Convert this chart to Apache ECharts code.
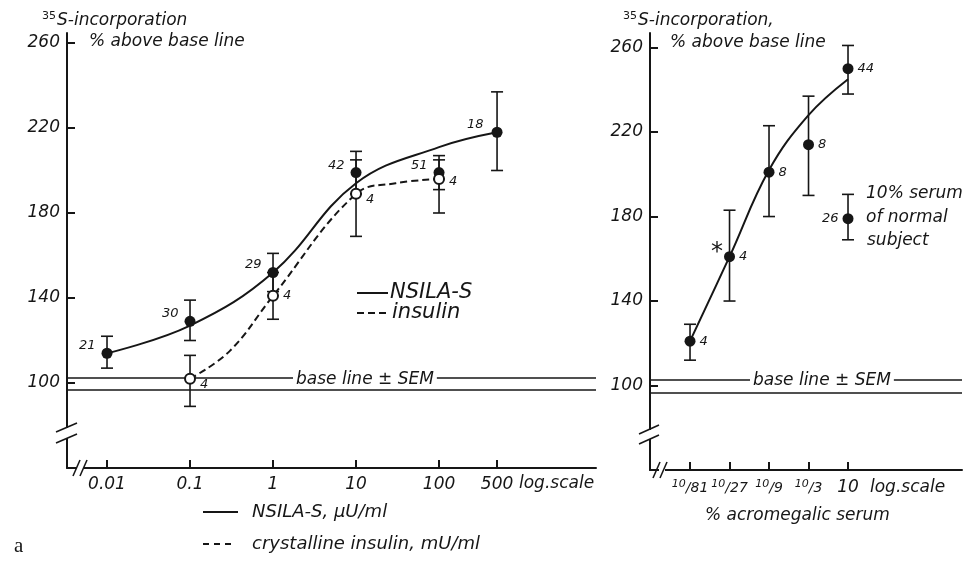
<!DOCTYPE html>
<html>
<head>
<meta charset="utf-8">
<script src="https://cdn.jsdelivr.net/npm/echarts@6/dist/echarts.min.js"></script>
<style>
  html, body { margin: 0; background: #fff; }
  #chart { width: 965px; height: 561px; }
</style>
</head>
<body>
<div id="chart"></div>
<script>
// ---- left panel: NSILA-S (µU/ml) and crystalline insulin (mU/ml), log scale ----
const leftTicks = [0.01, 0.1, 1, 10, 100, 500];
const leftTickLabels = ["0.01", "0.1", "1", "10", "100", "500"];
const yTicks = [100, 140, 180, 220, 260];

const nsilaDose = [0.01, 0.1, 1, 10, 100, 500];
const nsilaMean = [114, 129, 152, 199, 199, 218];
const nsilaLow = [107, 120, 143, 189, 191, 200];
const nsilaHigh = [122, 139, 161, 209, 207, 237];
const nsilaN = [21, 30, 29, 42, 51, 18];

const insulinDose = [0.1, 1, 10, 100];
const insulinMean = [102, 141, 189, 196];
const insulinLow = [89, 130, 169, 180];
const insulinHigh = [113, 152, 205, 205];
const insulinN = [4, 4, 4, 4];

// fitted curves as drawn
const nsilaCurveDose = [0.01, 0.1, 1, 10, 100, 500];
const nsilaCurve = [114, 127, 152, 194, 211, 218];
const insulinCurveDose = [0.1, 0.3, 1, 10, 30, 100];
const insulinCurve = [102, 115, 141, 189, 194, 196];

// ---- right panel: % acromegalic serum ----
const serumTicks = [10 / 81, 10 / 27, 10 / 9, 10 / 3, 10];
const serumTickLabels = ["10/81", "10/27", "10/9", "10/3", "10"];

const serumDose = [10 / 81, 10 / 27, 10 / 9, 10 / 3, 10];
const serumMean = [121, 161, 201, 214, 250];
const serumLow = [112, 140, 180, 190, 238];
const serumHigh = [129, 183, 223, 237, 261];
const serumN = [4, 4, 8, 8, 44];
const serumCurve = [121, 161, 202, 228, 245];

// 10% serum of normal subject
const normalDose = [10];
const normalMean = [179];
const normalLow = [169];
const normalHigh = [190.5];
const normalN = [26];

// base line ± SEM
const baseLine = [102.6, 96.8];

// label offsets (px) next to each point
const nsilaLabelOffset = [[-2, -8], [-2, -8], [-2, -8], [-2, -7], [-2, -7], [-4, -8]];
const insulinLabelOffset = [[0, 6], [0, 0], [0, 6], [0, 3]];

const FONT = "DejaVu Sans";
const INK = "#161616";

const log = (v) => Math.log10(v);

const pickLabel = (ticks, labels) => (value) => {
  let best = 0;
  ticks.forEach((t, i) => {
    if (Math.abs(log(t) - value) < Math.abs(log(ticks[best]) - value)) best = i;
  });
  return labels[best];
};

const textStyle = (size) => ({
  fill: INK,
  fontFamily: FONT,
  fontStyle: "italic",
  fontSize: size,
});

const errorBar = (gridIdx, dose, low, high) => ({
  type: "custom",
  xAxisIndex: gridIdx,
  yAxisIndex: gridIdx,
  silent: true,
  z: 3,
  encode: { x: 0, y: [1, 2] },
  data: dose.map((d, i) => [log(d), low[i], high[i]]),
  renderItem: (params, api) => {
    const top = api.coord([api.value(0), api.value(2)]);
    const bot = api.coord([api.value(0), api.value(1)]);
    const style = { stroke: INK, lineWidth: 1.6 };
    return {
      type: "group",
      children: [
        { type: "line", shape: { x1: top[0], y1: top[1], x2: bot[0], y2: bot[1] }, style },
        { type: "line", shape: { x1: top[0] - 6, y1: top[1], x2: top[0] + 6, y2: top[1] }, style },
        { type: "line", shape: { x1: bot[0] - 6, y1: bot[1], x2: bot[0] + 6, y2: bot[1] }, style },
      ],
    };
  },
});

const points = (gridIdx, dose, mean, n, opts) => ({
  type: "scatter",
  xAxisIndex: gridIdx,
  yAxisIndex: gridIdx,
  silent: true,
  z: 5,
  symbol: "circle",
  symbolSize: opts.open ? 10 : 11,
  itemStyle: opts.open
    ? { color: "#fff", borderColor: INK, borderWidth: 2, opacity: 1 }
    : { color: INK, opacity: 1 },
  label: {
    show: true,
    position: opts.position,
    distance: 4,
    color: INK,
    fontFamily: FONT,
    fontStyle: "italic",
    fontSize: 13,
    formatter: (p) => String(n[p.dataIndex]),
  },
  data: dose.map((d, i) => ({
    value: [log(d), mean[i]],
    label: opts.offsets ? { offset: opts.offsets[i] } : undefined,
  })),
});

const curve = (gridIdx, dose, values, dashed) => ({
  type: "line",
  xAxisIndex: gridIdx,
  yAxisIndex: gridIdx,
  silent: true,
  smooth: 0.4,
  showSymbol: false,
  z: 2,
  lineStyle: { color: INK, width: 2, type: dashed ? [7, 4] : "solid" },
  data: dose.map((d, i) => [log(d), values[i]]),
});

const baseLines = (gridIdx) => ({
  type: "line",
  xAxisIndex: gridIdx,
  yAxisIndex: gridIdx,
  silent: true,
  data: [],
  markLine: {
    silent: true,
    symbol: "none",
    label: { show: false },
    lineStyle: { color: INK, width: 1.5, type: "solid" },
    data: baseLine.map((v) => ({ yAxis: v })),
  },
});

const yAxis = (gridIdx, max) => ({
  gridIndex: gridIdx,
  type: "value",
  min: 60,
  max: max,
  axisLine: { show: true, onZero: false, lineStyle: { color: INK, width: 2 } },
  axisTick: { show: true, inside: true, length: 8, customValues: yTicks, lineStyle: { color: INK, width: 2 } },
  axisLabel: {
    customValues: yTicks,
    color: INK,
    fontFamily: FONT,
    fontStyle: "italic",
    fontSize: 17,
    margin: 7,
  },
  splitLine: { show: false },
});

const slash = (x1, y1, x2, y2) => ({
  type: "line",
  shape: { x1, y1, x2, y2 },
  style: { stroke: INK, lineWidth: 1.6 },
  z: 20,
});
const gap = (x, y, w, h) => ({
  type: "rect",
  shape: { x, y, width: w, height: h },
  style: { fill: "#fff" },
  z: 19,
});
const label = (x, y, text, size, extra) => ({
  type: "text",
  x, y, z: 20,
  style: Object.assign(textStyle(size), { text, verticalAlign: "middle" }, extra || {}),
});

const chart = echarts.init(document.getElementById("chart"));

chart.setOption({
  backgroundColor: "#fff",
  animation: false,
  grid: [
    { left: 67, top: 33, width: 529, height: 435 },
    { left: 650, top: 33, width: 312, height: 437 },
  ],
  xAxis: [
    {
      gridIndex: 0,
      type: "value",
      min: -2.482,
      max: 3.891,
      axisLine: { show: true, onZero: false, lineStyle: { color: INK, width: 2 } },
      axisTick: { show: true, inside: true, length: 8, customValues: leftTicks.map(log), lineStyle: { color: INK, width: 2 } },
      axisLabel: {
        customValues: leftTicks.map(log),
        formatter: pickLabel(leftTicks, leftTickLabels),
        color: INK,
        fontFamily: FONT,
        fontStyle: "italic",
        fontSize: 17,
        margin: 8,
      },
      splitLine: { show: false },
    },
    {
      gridIndex: 1,
      type: "value",
      min: -1.392,
      max: 2.377,
      axisLine: { show: true, onZero: false, lineStyle: { color: INK, width: 2 } },
      axisTick: { show: true, inside: true, length: 8, customValues: serumTicks.map(log), lineStyle: { color: INK, width: 2 } },
      axisLabel: {
        customValues: serumTicks.map(log),
        formatter: (v) => {
          const s = pickLabel(serumTicks, serumTickLabels)(v);
          const parts = s.split("/");
          return parts.length > 1 ? `{n|${parts[0]}}{d|/${parts[1]}}` : `{w|${s}}`;
        },
        color: INK,
        fontFamily: FONT,
        fontStyle: "italic",
        margin: 9,
        rich: {
          n: { fontSize: 11, fontFamily: FONT, fontStyle: "italic", color: INK, padding: [0, 0, 8, 0] },
          d: { fontSize: 14, fontFamily: FONT, fontStyle: "italic", color: INK },
          w: { fontSize: 17, fontFamily: FONT, fontStyle: "italic", color: INK },
        },
      },
      splitLine: { show: false },
    },
  ],
  yAxis: [yAxis(0, 264.7), yAxis(1, 266.9)],
  series: [
    baseLines(0),
    baseLines(1),
    curve(0, nsilaCurveDose, nsilaCurve, false),
    curve(0, insulinCurveDose, insulinCurve, true),
    curve(1, serumDose, serumCurve, false),
    errorBar(0, nsilaDose, nsilaLow, nsilaHigh),
    errorBar(0, insulinDose, insulinLow, insulinHigh),
    errorBar(1, serumDose, serumLow, serumHigh),
    errorBar(1, normalDose, normalLow, normalHigh),
    points(0, nsilaDose, nsilaMean, nsilaN, { position: "left", offsets: nsilaLabelOffset }),
    points(0, insulinDose, insulinMean, insulinN, { open: true, position: "right", offsets: insulinLabelOffset }),
    points(1, serumDose, serumMean, serumN, { position: "right" }),
    points(1, normalDose, normalMean, normalN, { position: "left" }),
  ],
  graphic: [
    // axis titles
    {
      type: "text", x: 42, y: 21, z: 20,
      style: {
        text: "{s|35}{t|S-incorporation}",
        verticalAlign: "middle",
        rich: {
          s: Object.assign(textStyle(11), { fontStyle: "normal", padding: [0, 1, 9, 0] }),
          t: textStyle(17),
        },
      },
    },
    label(89, 42, "% above base line", 17),
    {
      type: "text", x: 623, y: 21, z: 20,
      style: {
        text: "{s|35}{t|S-incorporation,}",
        verticalAlign: "middle",
        rich: {
          s: Object.assign(textStyle(11), { fontStyle: "normal", padding: [0, 1, 9, 0] }),
          t: textStyle(17),
        },
      },
    },
    label(670, 43, "% above base line", 17),

    // base line labels sitting on the upper line
    label(293, 380, "base line ± SEM", 17, { backgroundColor: "#fff", padding: [0, 3], lineHeight: 13 }),
    label(750, 381, "base line ± SEM", 17, { backgroundColor: "#fff", padding: [0, 3], lineHeight: 13 }),

    // log.scale notes
    label(519, 484, "log.scale", 17),
    label(870, 488, "log.scale", 17),
    label(705, 516, "% acromegalic serum", 17),

    // inside legend
    { type: "line", shape: { x1: 357, y1: 293, x2: 388, y2: 293 }, style: { stroke: INK, lineWidth: 2 }, z: 20 },
    label(390, 293, "NSILA-S", 21),
    { type: "line", shape: { x1: 357, y1: 313, x2: 388, y2: 313 }, style: { stroke: INK, lineWidth: 2, lineDash: [7, 4] }, z: 20 },
    label(392, 313, "insulin", 21),

    // bottom legend
    { type: "line", shape: { x1: 203, y1: 512, x2: 238, y2: 512 }, style: { stroke: INK, lineWidth: 2 }, z: 20 },
    label(252, 512, "NSILA-S, µU/ml", 18),
    { type: "line", shape: { x1: 203, y1: 544, x2: 236, y2: 544 }, style: { stroke: INK, lineWidth: 2, lineDash: [6, 5] }, z: 20 },
    label(252, 544, "crystalline insulin, mU/ml", 18),

    // normal serum note and asterisk
    label(866, 194, "10% serum", 17),
    label(866, 218, "of normal", 17),
    label(867, 241, "subject", 17),
    label(711, 253, "*", 24, { fontStyle: "normal" }),

    // panel letter
    {
      type: "text", x: 14, y: 546, z: 20,
      style: { text: "a", fill: INK, fontFamily: "Liberation Serif", fontSize: 21, verticalAlign: "middle" },
    },

    // axis breaks, left panel
    gap(63, 428, 8, 10),
    slash(56, 432, 77, 423),
    slash(56, 443, 77, 434),
    gap(77, 464, 7, 8),
    slash(73, 476, 80, 460),
    slash(80, 476, 87, 460),

    // axis breaks, right panel
    gap(646, 430, 8, 9),
    slash(639, 434, 659, 425),
    slash(639, 444, 659, 435),
    gap(659, 466, 6, 8),
    slash(653, 478, 660, 462),
    slash(660, 478, 667, 462),
  ],
});
</script>
</body>
</html>
